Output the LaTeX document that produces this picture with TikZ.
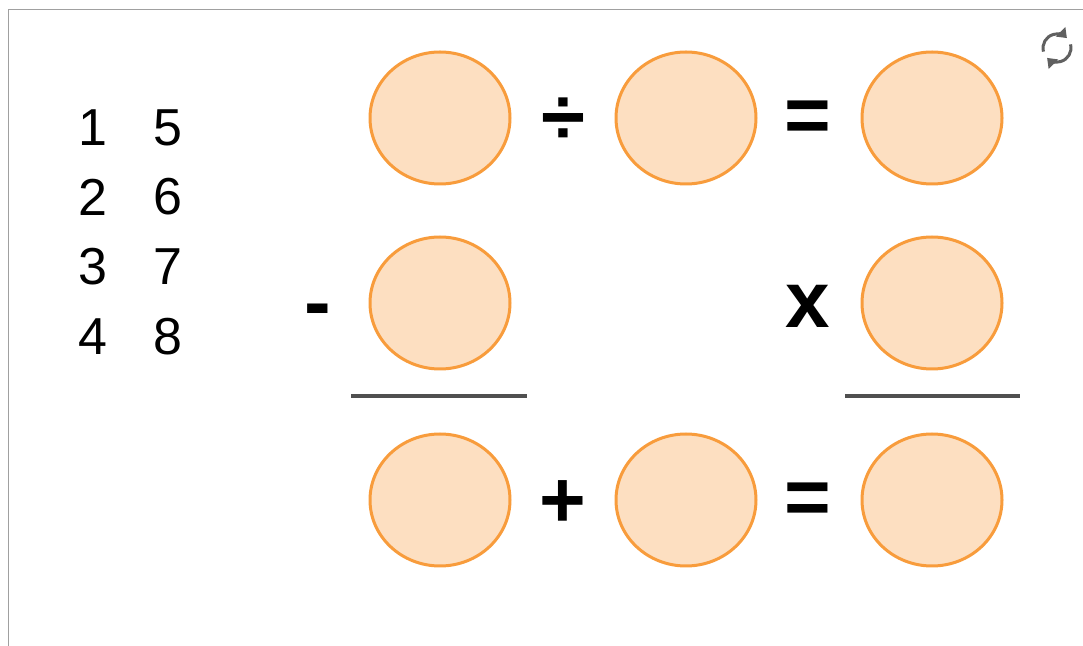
\documentclass[tikz,border=0pt]{standalone}
\usepackage{fontspec}
\setmainfont{Liberation Sans}
\usetikzlibrary{shapes.geometric,arrows.meta}
\definecolor{slotfill}{HTML}{FDDFC1}
\definecolor{slotline}{HTML}{F89C3C}
\definecolor{rulegray}{HTML}{505050}
\definecolor{framegray}{HTML}{A0A0A0}
\definecolor{icongray}{HTML}{606060}

\begin{document}
\begin{tikzpicture}[x=0.5pt,y=-0.5pt,
  slot/.style={ellipse,draw=slotline,fill=slotfill,line width=1.5pt,
    minimum width=70pt,minimum height=66pt,inner sep=0pt},
  op/.style={font=\fontsize{40}{40}\selectfont\bfseries,inner sep=0pt},
  digit/.style={font=\fontsize{26}{26}\selectfont,inner sep=0pt}]
  \useasboundingbox (0,0) rectangle (1083,646);
  \fill[white] (0,0) rectangle (1083,646);
  \draw[framegray,line width=0.8pt] (8.5,700) -- (8.5,9.5) -- (1100,9.5);

  \node[digit] (n1) at (93,128) {1};
  \node[digit] (n2) at (93,197) {2};
  \node[digit] (n3) at (93,267) {3};
  \node[digit] (n4) at (93,337) {4};
  \node[digit] (n5) at (168,128) {5};
  \node[digit] (n6) at (168,197) {6};
  \node[digit] (n7) at (168,267) {7};
  \node[digit] (n8) at (168,337) {8};

  \node[slot] (a1) at (440,118) {};
  \node[slot] (a2) at (686,118) {};
  \node[slot] (a3) at (932,118) {};
  \node[slot] (b1) at (440,303) {};
  \node[slot] (b3) at (932,303) {};
  \node[slot] (c1) at (440,500) {};
  \node[slot] (c2) at (686,500) {};
  \node[slot] (c3) at (932,500) {};

  \node[op] (div) at (563,121) {÷};
  \node[op] (eqa) at (808,122) {=};
  \node[op] (minus) at (318,317) {-};
  \node[op] (times) at (808,306) {x};
  \node[op] (plus) at (563,504) {+};
  \node[op] (eqc) at (808,504) {=};

  \draw[rulegray,line width=1.8pt] (351,396) -- (527,396);
  \draw[rulegray,line width=1.8pt] (845,396) -- (1020,396);

  \coordinate (reload) at (1057,48);
  \draw[icongray,line width=1.5pt,-{Triangle[length=4.5pt,width=6.5pt]}]
    (reload) ++(-195:14) arc[start angle=-195,end angle=-45,radius=14];
  \draw[icongray,line width=1.5pt,-{Triangle[length=4.5pt,width=6.5pt]}]
    (reload) ++(-15:14) arc[start angle=-15,end angle=135,radius=14];
\end{tikzpicture}
\end{document}
